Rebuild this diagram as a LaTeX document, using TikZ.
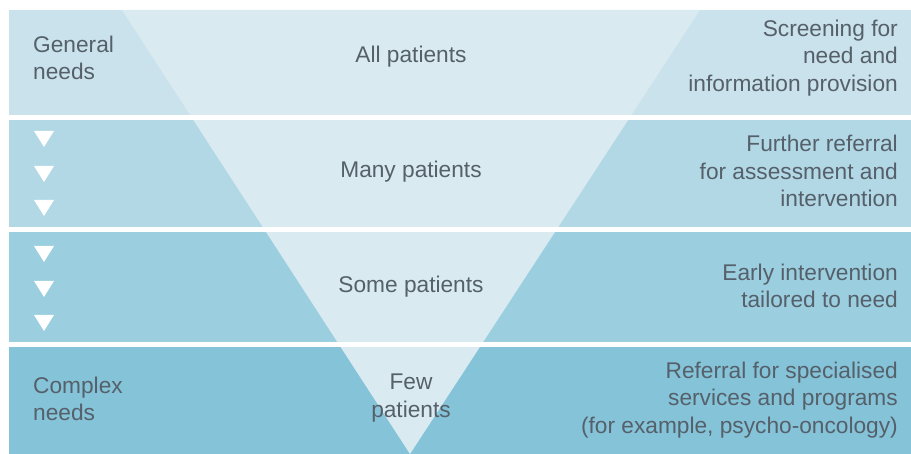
\documentclass[tikz,border=0pt]{standalone}
\usepackage{fontspec}
\setmainfont{Liberation Sans}
\definecolor{bandA}{HTML}{CAE2EB}
\definecolor{bandB}{HTML}{B2D8E6}
\definecolor{bandC}{HTML}{9BCEDF}
\definecolor{bandD}{HTML}{85C3D8}
\definecolor{funnel}{HTML}{D9EAF1}
\definecolor{txt}{HTML}{55606A}
\begin{document}
\begin{tikzpicture}[x=1pt,y=-1pt,
  lbl/.style={text=txt,inner sep=0pt,font=\fontsize{22.7}{27.5}\selectfont},
  rlbl/.style={lbl,anchor=east,align=right},
  llbl/.style={lbl,anchor=west,align=left},
  clbl/.style={lbl,anchor=center,align=center},
  marker/.style={fill=white}]
\useasboundingbox (0,0) rectangle (911,454);
\fill[white] (0,0) rectangle (911,454);
% bands
\fill[bandA] (9,10) rectangle (911,115);
\fill[bandB] (9,120) rectangle (911,227);
\fill[bandC] (9,232) rectangle (911,342);
\fill[bandD] (9,347) rectangle (911,454);
% funnel
\coordinate (tl) at (122,10);
\coordinate (tr) at (700,10);
\coordinate (apex) at (410,454);
\fill[funnel] (tl) -- (tr) -- (apex) -- cycle;
% white gaps across funnel
\fill[white] (9,115) rectangle (911,120);
\fill[white] (9,227) rectangle (911,232);
\fill[white] (9,342) rectangle (911,347);
% markers
\foreach \yy in {131,166,200,246,281,315}{
  \fill[marker] (34,\yy) -- (54,\yy) -- (44,\yy+16) -- cycle;
}
% labels
\node[llbl] (gen) at (33,58) {General\\needs};
\node[clbl] (all) at (411,57) {All patients};
\node[rlbl] (scr) at (898,58) {Screening for\\need and\\information provision};
\node[clbl] (many) at (411,172) {Many patients};
\node[rlbl] (fur) at (898,171) {Further referral\\for assessment and\\intervention};
\node[clbl] (some) at (411,287) {Some patients};
\node[rlbl] (early) at (898,286) {Early intervention\\tailored to need};
\node[llbl] (cplx) at (33,399) {Complex\\needs};
\node[clbl] (few) at (411,398) {Few\\patients};
\node[rlbl] (ref) at (898,400) {Referral for specialised\\services and programs\\(for example, psycho-oncology)};
\end{tikzpicture}
\end{document}
